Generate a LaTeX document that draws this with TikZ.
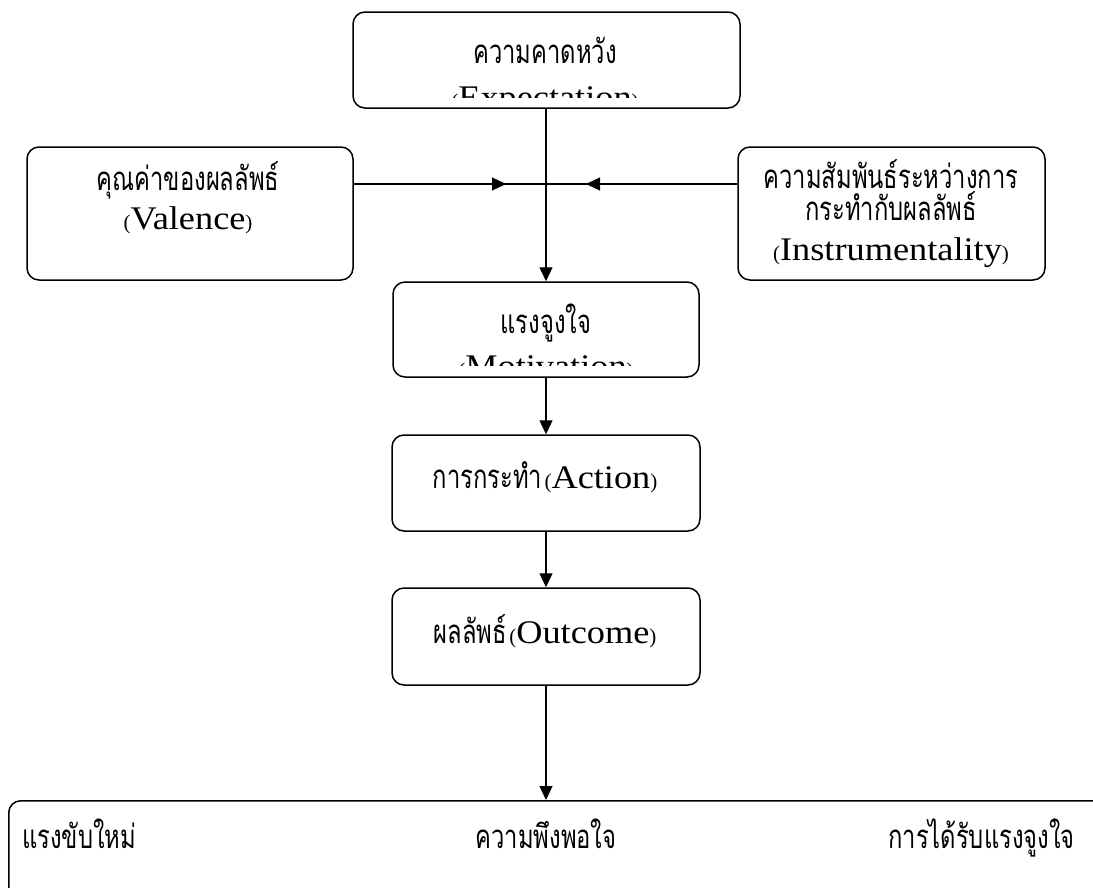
\documentclass[tikz,border=0pt]{standalone}
\usepackage{fontspec}
\setmainfont{Liberation Serif}
\newfontfamily\thai[Script=Thai,FakeStretch=0.72]{Loma}
\newfontfamily\lat[FakeStretch=1.1]{Liberation Serif}
\usetikzlibrary{arrows.meta}
\tikzset{
  box/.style={draw,line width=1.5pt,rounded corners=12pt,inner sep=0pt},
  lbl/.style={anchor=base,inner sep=0pt,align=center},
  conn/.style={line width=1.3pt},
  arr/.style={line width=1.3pt,-{Triangle[length=14pt,width=13pt]}},
  th/.style={font=\thai\fontsize{33}{36}\selectfont,text depth=3pt},
  en/.style={font=\lat\fontsize{33}{36}\selectfont,text height=22pt},
}
\newcommand{\pr}[1]{{\rmfamily\fontsize{21}{24}\selectfont #1}}
\newcommand{\thx}[1]{{\thai\fontsize{33}{36}\selectfont #1}}
\newcommand{\enx}[1]{{\lat\fontsize{33}{36}\selectfont #1}}
\begin{document}
\begin{tikzpicture}[x=1pt,y=-1pt]
\useasboundingbox (0,0) rectangle (1093,887);
\clip (0,0) rectangle (1093,887);
% boxes
\node[box,minimum width=387pt,minimum height=96pt] (exp) at (546.5,60) {};
\node[box,minimum width=326pt,minimum height=133pt] (val) at (190,213.5) {};
\node[box,minimum width=307pt,minimum height=133pt] (ins) at (891.5,213.5) {};
\node[box,minimum width=306pt,minimum height=95pt] (mot) at (546,329.5) {};
\node[box,minimum width=308pt,minimum height=96pt] (act) at (546,483) {};
\node[box,minimum width=308pt,minimum height=97pt] (out) at (546,636.5) {};
\node[box,minimum width=1120pt,minimum height=140pt,anchor=north west] (res) at (8,800) {};
% texts
\node[lbl,th] (expth) at (545,63) {ความคาดหวัง};
\begin{scope}
\clip (exp.west |- 0,70) rectangle (exp.east |- 0,97);
\node[lbl,en] (expen) at (545,108) {\pr{(}Expectation\pr{)}};
\end{scope}
\node[lbl,th] (valth) at (188,190) {คุณค่าของผลลัพธ์};
\node[lbl,en] (valen) at (188,229) {\pr{(}Valence\pr{)}};
\node[lbl,th] (insth1) at (891,188) {ความสัมพันธ์ระหว่างการ};
\node[lbl,th] (insth2) at (891,220) {กระทำกับผลลัพธ์};
\node[lbl,en] (insen) at (891,260) {\pr{(}Instrumentality\pr{)}};
\node[lbl,th] (motth) at (546,333) {แรงจูงใจ};
\begin{scope}
\clip (mot.west |- 0,340) rectangle (mot.east |- 0,365);
\node[lbl,en] (moten) at (546,377) {\pr{(}Motivation\pr{)}};
\end{scope}
\node[lbl] (actt) at (545,488) {\thx{การกระทำ} \enx{\pr{(}Action\pr{)}}};
\node[lbl] (outt) at (545,643) {\thx{ผลลัพธ์} \enx{\pr{(}Outcome\pr{)}}};
\node[lbl,th,anchor=base west] (r1) at (22,848) {แรงขับใหม่};
\node[lbl,th] (r2) at (546,848) {ความพึงพอใจ};
\node[lbl,th,anchor=base east] (r3) at (1075,848) {การได้รับแรงจูงใจ};
% connectors
\coordinate (j) at (546,184);
\coordinate (tl) at (506,184);
\coordinate (tr) at (586,184);
\draw[conn] (val.east |- j) -- (ins.west |- j);
\draw[arr] (val.east |- j) -- (tl);
\draw[arr] (ins.west |- j) -- (tr);
\draw[arr] (exp.south -| j) -- (mot.north -| j);
\draw[arr] (mot.south) -- (act.north);
\draw[arr] (act.south) -- (out.north);
\draw[arr] (out.south) -- (out.south |- res.north);
\end{tikzpicture}
\end{document}
